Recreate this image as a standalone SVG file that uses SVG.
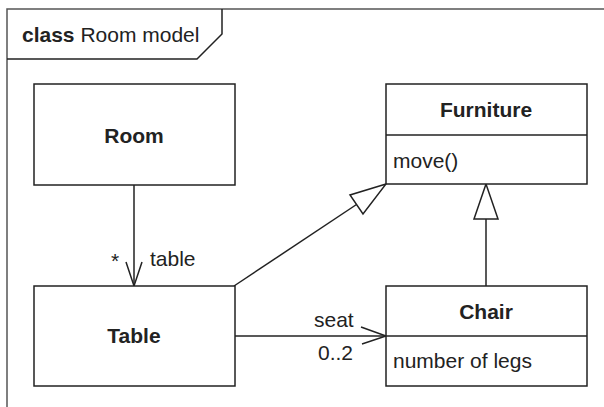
<svg xmlns="http://www.w3.org/2000/svg" width="604" height="407" viewBox="0 0 604 407">
<style>
.box{fill:#fff;stroke:#222;stroke-width:1.5}
.ln{fill:none;stroke:#222;stroke-width:1.5}
.tri{fill:#fff;stroke:#222;stroke-width:1.5}
text{font-family:"Liberation Sans",Arial,sans-serif;font-size:21px;fill:#222}
.b{font-weight:bold}
.c{text-anchor:middle}
</style>
<rect width="604" height="407" fill="#fff"/>
<g id="frame">
<path d="M7,407 V9 H604" fill="none" stroke="#555" stroke-width="1.5"/>
<path d="M7,59 H197 L222,34 V9" class="ln"/>
<text x="22" y="42"><tspan class="b">class</tspan> Room model</text>
</g>
<g id="connectors">
<path d="M134,185 V286" class="ln"/>
<path d="M126,262 L134,286 L142,262" class="ln"/>
<path d="M234,336 H386" class="ln"/>
<path d="M361,327 L386,336 L362,344" class="ln"/>
<path d="M234,286 L356.5,204.5" class="ln"/>
<path d="M386,184 L350,195 L363,214 Z" class="tri"/>
<path d="M486,286 V219" class="ln"/>
<path d="M486,184 L474,219 H498 Z" class="tri"/>
<text x="111" y="268">*</text>
<text x="150" y="266">table</text>
<text x="314" y="327">seat</text>
<text x="318" y="360">0..2</text>
</g>
<g id="room">
<rect x="34" y="84" width="201" height="101" class="box"/>
<text x="134" y="143" class="b c">Room</text>
</g>
<g id="table">
<rect x="34" y="286" width="201" height="100" class="box"/>
<text x="134" y="343" class="b c">Table</text>
</g>
<g id="furniture">
<rect x="386" y="84" width="201" height="100" class="box"/>
<path d="M386,135 H587" class="ln"/>
<text x="486" y="117" class="b c">Furniture</text>
<text x="393" y="168">move()</text>
</g>
<g id="chair">
<rect x="386" y="286" width="201" height="100" class="box"/>
<path d="M386,336 H587" class="ln"/>
<text x="486" y="319" class="b c">Chair</text>
<text x="393" y="368">number of legs</text>
</g>
</svg>
